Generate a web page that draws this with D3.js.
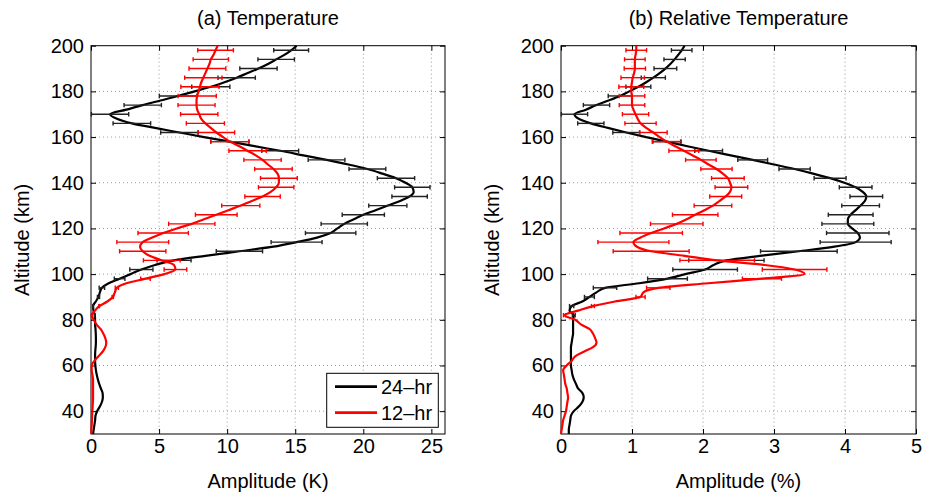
<!DOCTYPE html>
<html><head><meta charset="utf-8">
<script src="https://cdn.jsdelivr.net/npm/d3@7"></script>
<style>
body{margin:0;background:#fff}
svg{display:block}
text{font-family:"Liberation Sans",Arial,Helvetica,sans-serif;fill:#000}
</style>
</head><body>
<svg id="c" width="928" height="495"></svg>
<script>
// ---------------- data ----------------
const altitude = [
 30,32,34,36,38,40,42,44,46,48,
 50,52,54,56,58,60,62,64,66,68,
 70,72,74,76,78,80,82,84,86,88,
 90,92,94,96,98,100,102,104,106,108,
 110,112,114,116,118,120,122,124,126,128,
 130,132,134,136,138,140,142,144,146,148,
 150,152,154,156,158,160,162,164,166,168,
 170,172,174,176,178,180,182,184,186,188,
 190,192,194,196,198,200];

// (a) Temperature amplitude (K)
const temp24 = [
 0.15,0.2,0.25,0.3,0.33,0.45,0.65,0.8,0.87,0.85,
 0.72,0.6,0.5,0.42,0.36,0.32,0.3,0.3,0.31,0.34,
 0.36,0.36,0.35,0.33,0.3,0.3,0.28,0.18,0.15,0.35,
 0.55,0.65,0.8,1.3,2.1,2.9,3.7,4.7,6.1,8.4,
 10.9,13.4,15.1,16.6,17.6,18.1,18.6,19.3,20.0,20.9,
 21.8,22.7,23.4,23.7,23.6,23.1,22.4,21.4,20.3,18.9,
 17.3,15.6,13.9,12.0,10.2,8.3,6.5,4.7,3.0,1.9,
 1.4,2.6,3.8,5.1,6.4,7.6,8.8,9.8,10.7,11.5,
 12.3,13.0,13.6,14.2,14.7,15.1];
const temp12 = [
 0.02,0.03,0.05,0.07,0.08,0.1,0.12,0.14,0.15,0.15,
 0.15,0.15,0.15,0.1,0.05,0.05,0.25,0.55,0.85,1.05,
 1.12,1.05,0.9,0.7,0.4,0.2,0.05,0.3,0.6,1.2,
 1.6,1.75,1.9,2.6,4.0,5.4,6.2,6.1,5.2,4.3,
 3.8,3.6,3.8,4.5,5.3,6.3,7.4,8.3,9.2,10.1,
 11.0,11.8,12.6,13.2,13.6,13.8,13.8,13.7,13.4,13.0,
 12.6,12.1,11.5,10.9,10.2,9.7,9.2,8.8,8.4,8.1,
 7.95,7.8,7.75,7.75,7.8,7.9,8.0,8.1,8.25,8.4,
 8.55,8.7,8.8,9.0,9.15,9.3];

// (b) Relative temperature amplitude (%)
const rel24 = [
 0.11,0.11,0.12,0.13,0.14,0.18,0.25,0.3,0.32,0.3,
 0.24,0.21,0.18,0.16,0.15,0.14,0.14,0.14,0.14,0.14,
 0.15,0.16,0.17,0.17,0.17,0.17,0.18,0.12,0.15,0.3,
 0.4,0.5,0.62,1.1,1.5,1.75,2.03,2.15,2.33,2.8,
 3.35,3.85,4.15,4.21,4.18,4.1,4.04,4.04,4.08,4.15,
 4.22,4.28,4.3,4.25,4.15,3.99,3.79,3.55,3.29,3.0,
 2.7,2.39,2.08,1.78,1.49,1.2,0.92,0.66,0.42,0.25,
 0.19,0.35,0.5,0.67,0.83,0.96,1.09,1.2,1.3,1.39,
 1.47,1.54,1.6,1.65,1.7,1.74];
const rel12 = [
 0.0,0.01,0.02,0.03,0.05,0.07,0.08,0.09,0.1,0.09,
 0.08,0.06,0.05,0.04,0.03,0.08,0.15,0.2,0.32,0.45,
 0.5,0.48,0.45,0.4,0.28,0.2,0.05,0.24,0.45,0.76,
 1.12,1.16,1.37,2.07,2.83,3.43,3.29,2.87,2.2,1.74,
 1.27,1.07,1.02,1.12,1.27,1.45,1.63,1.77,1.89,2.02,
 2.14,2.23,2.32,2.38,2.4,2.38,2.35,2.28,2.19,2.08,
 1.97,1.85,1.73,1.61,1.49,1.39,1.3,1.2,1.12,1.08,
 1.05,1.02,1.0,1.0,1.0,0.99,0.99,1.0,1.01,1.03,
 1.04,1.04,1.04,1.05,1.06,1.06];

// error bars (half widths) at these altitudes
const errAltitude = [82,86,90,94,98,102,106,110,114,118,122,126,130,134,138,142,146,150,154,158,162,166,170,174,178,182,186,190,194,198];
const tempErr24 = [0.02,0.03,0.08,0.2,0.39,0.85,1.25,1.7,1.87,1.85,1.7,1.55,1.4,1.3,1.3,1.37,1.35,1.35,1.35,1.4,1.38,1.38,1.37,1.37,1.38,1.4,1.37,1.37,1.34,1.28];
const tempErr12 = [0.02,0.02,0.05,0.12,0.35,0.83,1.35,1.7,1.9,1.85,1.7,1.53,1.4,1.3,1.3,1.35,1.38,1.37,1.37,1.4,1.35,1.4,1.37,1.36,1.4,1.4,1.37,1.35,1.3,1.31];
const relErr24 = [0.02,0.03,0.07,0.165,0.28,0.455,0.53,0.54,0.5,0.44,0.365,0.315,0.265,0.23,0.23,0.225,0.22,0.21,0.195,0.195,0.19,0.185,0.185,0.185,0.165,0.175,0.17,0.16,0.15,0.145];
const relErr12 = [0.015,0.02,0.065,0.165,0.275,0.455,0.525,0.535,0.5,0.44,0.37,0.32,0.265,0.225,0.23,0.23,0.22,0.215,0.21,0.205,0.195,0.22,0.185,0.18,0.18,0.175,0.165,0.15,0.145,0.145];

const yTicks = [40,60,80,100,120,140,160,180,200];
const xTicksA = [0,5,10,15,20,25];
const xTicksB = [0,1,2,3,4,5];
const seriesNames = ["24\u2013hr","12\u2013hr"];
const seriesColors = ["#000000","#ff0000"];
const panelTitles = ["(a) Temperature","(b) Relative Temperature"];
const xLabels = ["Amplitude (K)","Amplitude (%)"];
const yLabel = "Altitude (km)";

// ---------------- drawing ----------------
const svg = d3.select("#c");
const FONT = 20;
const plotTop = 45.7, plotBottom = 434;

function panel(opts){
  const {left,right,xDomain,xTicks,s24,s12,e24,e12,title,xLabel,legend} = opts;
  const x = d3.scaleLinear().domain(xDomain).range([left,right]);
  const y = d3.scaleLinear().domain([30,200]).range([plotBottom,plotTop]);
  const g = svg.append("g");

  // grid
  const grid = g.append("g").attr("stroke","#9a9a9a").attr("stroke-width",1).attr("stroke-dasharray","1,3");
  xTicks.forEach(t=>{ if(x(t)>left+1 && x(t)<right-1) grid.append("line").attr("x1",x(t)).attr("x2",x(t)).attr("y1",plotTop).attr("y2",plotBottom); });
  yTicks.forEach(t=>{ if(y(t)<plotBottom-1 && y(t)>plotTop+1) grid.append("line").attr("x1",left).attr("x2",right).attr("y1",y(t)).attr("y2",y(t)); });

  // axes
  const ax = d3.axisBottom(x).tickValues(xTicks).tickSize(-5).tickPadding(5).tickFormat(d3.format("d"));
  const axT = d3.axisTop(x).tickValues(xTicks).tickSize(-5).tickFormat("");
  const ay = d3.axisLeft(y).tickValues(yTicks).tickSize(-5).tickPadding(7).tickFormat(d3.format("d"));
  const ayR = d3.axisRight(y).tickValues(yTicks).tickSize(-5).tickFormat("");
  [ [ax,`translate(0,${plotBottom})`], [axT,`translate(0,${plotTop})`], [ay,`translate(${left},0)`], [ayR,`translate(${right},0)`] ].forEach(([a,tr])=>{
    const gg = g.append("g").attr("transform",tr).call(a);
    gg.select(".domain").remove();
    gg.selectAll("line").attr("stroke","#000");
    gg.selectAll("text").style("font-size",FONT+"px").style("font-family",'"Liberation Sans",Arial,sans-serif');
  });
  g.append("rect").attr("x",left).attr("y",plotTop).attr("width",right-left).attr("height",plotBottom-plotTop)
    .attr("fill","none").attr("stroke","#000").attr("stroke-width",1);

  const line = d3.line().x(d=>x(d[1])).y(d=>y(d[0])).curve(d3.curveMonotoneY);
  const cap = 2.2;
  [[s24,e24,seriesColors[0],"#222"],[s12,e12,seriesColors[1],"#ff0000"]].forEach(([s,e,col,ecol])=>{
    const pts = altitude.map((a,i)=>[a,s[i]]);
    g.append("path").datum(pts).attr("d",line).attr("fill","none").attr("stroke",col).attr("stroke-width",2.2).attr("stroke-linejoin","round");
    const eb = g.append("g").attr("stroke",ecol).attr("stroke-width",1.4);
    errAltitude.forEach((a,i)=>{
      const c = s[altitude.indexOf(a)];
      const x0 = x(c-e[i]), x1 = x(c+e[i]), yy = y(a);
      eb.append("line").attr("x1",x0).attr("x2",x1).attr("y1",yy).attr("y2",yy);
      eb.append("line").attr("x1",x0).attr("x2",x0).attr("y1",yy-cap).attr("y2",yy+cap);
      eb.append("line").attr("x1",x1).attr("x2",x1).attr("y1",yy-cap).attr("y2",yy+cap);
    });
  });

  // titles
  g.append("text").attr("x",(left+right)/2).attr("y",25).attr("text-anchor","middle").style("font-size",FONT+"px").text(title);
  g.append("text").attr("x",(left+right)/2).attr("y",488).attr("text-anchor","middle").style("font-size",FONT+"px").text(xLabel);
  g.append("text").attr("transform",`translate(${left-62},${(plotTop+plotBottom)/2}) rotate(-90)`).attr("text-anchor","middle").style("font-size",FONT+"px").text(yLabel);

  if(legend){
    const lg = g.append("g");
    lg.append("rect").attr("x",326.7).attr("y",373.3).attr("width",111.6).attr("height",54).attr("fill","#fff").attr("stroke","#000").attr("stroke-width",1);
    seriesNames.forEach((n,i)=>{
      const yy = 386.7 + i*26;
      lg.append("line").attr("x1",335).attr("x2",377).attr("y1",yy).attr("y2",yy).attr("stroke",seriesColors[i]).attr("stroke-width",2.8);
      lg.append("text").attr("x",381).attr("y",yy).attr("dy","0.35em").style("font-size","20px").text(n);
    });
  }
}

panel({left:91,right:445,xDomain:[0,26],xTicks:xTicksA,s24:temp24,s12:temp12,e24:tempErr24,e12:tempErr12,title:panelTitles[0],xLabel:xLabels[0],legend:true});
panel({left:561,right:916,xDomain:[0,5],xTicks:xTicksB,s24:rel24,s12:rel12,e24:relErr24,e12:relErr12,title:panelTitles[1],xLabel:xLabels[1],legend:false});
</script>
</body></html>
